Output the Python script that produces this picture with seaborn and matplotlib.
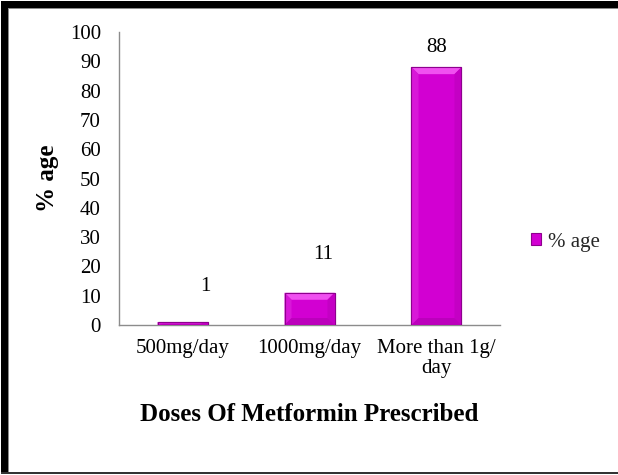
import matplotlib
matplotlib.use("Agg")
import matplotlib.pyplot as plt
from matplotlib.patches import Rectangle, Polygon
import seaborn as sns
import pandas as pd

categories = ["500mg/day", "1000mg/day", "More than 1g/\nday"]
values = [1, 11, 88]
value_labels = ["1", "11", "88"]
series_name = "% age"
y_ticks = [0, 10, 20, 30, 40, 50, 60, 70, 80, 90, 100]
x_title = "Doses Of Metformin Prescribed"
y_title = "% age"

W, H = 618, 475
DPI = 100

sns.set_theme(style="white")
plt.rcParams["font.family"] = ["Liberation Serif", "DejaVu Serif"]

fig = plt.figure(figsize=(W / DPI, H / DPI), dpi=DPI)
fig.patch.set_facecolor("white")


def fx(px):
    return px / W


def fy(py):
    return 1 - py / H


# plot area in pixel terms
left_px, right_px, top_px, bottom_px = 119, 500, 32, 325
ax = fig.add_axes([fx(left_px), fy(bottom_px), fx(right_px - left_px),
                   (bottom_px - top_px) / H])

df = pd.DataFrame({"dose": categories, "pct": values})
face = "#D200D2"
sns.barplot(data=df, x="dose", y="pct", color=face, width=50 / 127,
            edgecolor="#8E008E", linewidth=0.8, saturation=1,
            label=series_name, ax=ax, zorder=3)

ax.set_ylim(0, 100)
ax.set_xlim(-0.5, len(categories) - 0.5)
ax.set_yticks(y_ticks)
ax.set_yticklabels([str(t) for t in y_ticks])
ax.tick_params(axis="y", length=0, pad=13, labelsize=15, labelcolor="black")
ax.tick_params(axis="x", length=0, pad=10, labelsize=15, labelcolor="black")
for t in ax.get_xticklabels():
    t.set_linespacing(1.1)

for side in ["top", "right"]:
    ax.spines[side].set_visible(False)
for side in ["left", "bottom"]:
    ax.spines[side].set_color("#8C8C8C")
    ax.spines[side].set_linewidth(1.0)
ax.grid(False)

ax.set_xlabel(x_title, fontsize=18, fontweight="bold", labelpad=18,
              color="black")
ax.set_ylabel(y_title, fontsize=18, fontweight="bold", labelpad=8,
              color="black")

# bevelled look on each bar, derived from the bar geometry
px_per_x = (right_px - left_px) / len(categories)
px_per_y = (bottom_px - top_px) / 100.0
bev_x = 7 / px_per_x
bev_y = 7 / px_per_y
for p in ax.patches:
    x0, y0 = p.get_x(), p.get_y()
    w, h = p.get_width(), p.get_height()
    by = min(bev_y, h / 2)
    bx = min(bev_x, w / 2)
    x1, y1 = x0 + w, y0 + h
    top = Polygon([(x0, y1), (x1, y1), (x1 - bx, y1 - by), (x0 + bx, y1 - by)],
                  closed=True, facecolor="#F050F0", edgecolor="none", zorder=4)
    lft = Polygon([(x0, y0), (x0, y1), (x0 + bx, y1 - by), (x0 + bx, y0 + by)],
                  closed=True, facecolor="#D818D8", edgecolor="none", zorder=4)
    rgt = Polygon([(x1, y0), (x1, y1), (x1 - bx, y1 - by), (x1 - bx, y0 + by)],
                  closed=True, facecolor="#C400C4", edgecolor="none", zorder=4)
    bot = Polygon([(x0, y0), (x1, y0), (x1 - bx, y0 + by), (x0 + bx, y0 + by)],
                  closed=True, facecolor="#BC00BC", edgecolor="none", zorder=4)
    for poly in (top, lft, rgt, bot):
        ax.add_patch(poly)
    ax.add_patch(Rectangle((x0, y0), w, h, facecolor="none",
                           edgecolor="#8E008E", linewidth=0.8, zorder=5))

# value labels (pixel offsets from the top of each bar)
offsets_px = [(23, 36), (14, 38), (0, 20)]
for i, (v, lab) in enumerate(zip(values, value_labels)):
    dx, dy = offsets_px[i]
    ax.annotate(lab, xy=(i, v), xytext=(dx * 72 / DPI, dy * 72 / DPI),
                textcoords="offset points", ha="center", va="center",
                fontsize=15, color="black", zorder=6)

handles, labels = ax.get_legend_handles_labels()
leg = ax.legend(handles[:1], labels[:1], loc="center left",
                bbox_to_anchor=(fx(531), fy(242)), bbox_transform=fig.transFigure,
                frameon=False, borderpad=0, borderaxespad=0,
                handlelength=0.5, handleheight=0.5, handletextpad=0.3,
                prop={"size": 15, "family": ["Liberation Serif"]})

# outer frame: black bands on top/left, thin grey inner line, dark bottom line
frame = [
    (1, 1, 7, 472, "black"),
    (1, 1, W - 1, 7, "black"),
    (8, 8, 1.2, 464, "#8A8A8A"),
    (8, 8, W - 8, 1.2, "#8A8A8A"),
    (1, 472, W - 1, 2, "#333333"),
]
for x, y, w, h, c in frame:
    fig.patches.append(Rectangle((fx(x), fy(y + h)), fx(w), h / H,
                                 transform=fig.transFigure, facecolor=c,
                                 edgecolor="none", zorder=10))

fig.savefig("out.png", dpi=DPI, facecolor="white")
